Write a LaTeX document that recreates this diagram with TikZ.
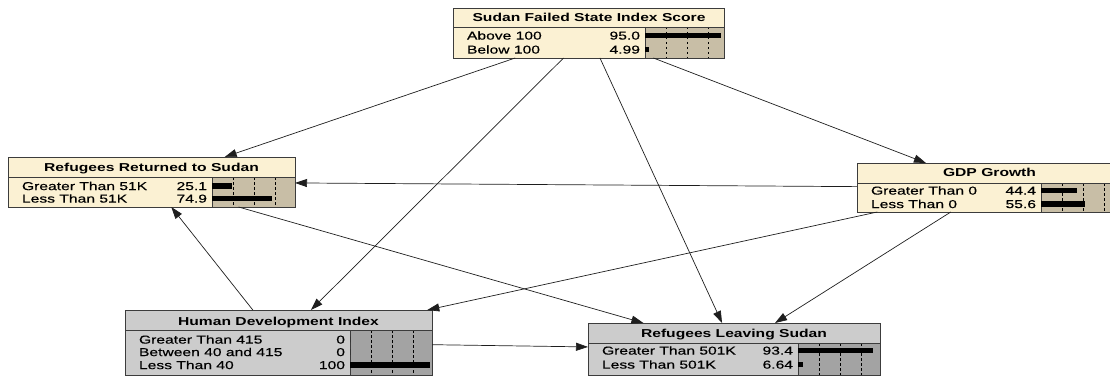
\documentclass[tikz,border=0pt]{standalone}
\usepackage{fontspec}
\newfontfamily\bnfont[FakeStretch=1.36,FakeBold=0.35]{Liberation Sans}
\newfontfamily\bnbfont[FakeStretch=1.36]{Liberation Sans Bold}
\usetikzlibrary{arrows.meta}
\definecolor{creamfill}{RGB}{251,241,211}
\definecolor{creambar}{RGB}{200,190,166}
\definecolor{grayfill}{RGB}{204,204,204}
\definecolor{graybar}{RGB}{163,163,163}
\definecolor{edgecol}{RGB}{30,30,30}
\definecolor{framecol}{RGB}{60,60,60}
% #1 name, #2 left, #3 top, #4 right, #5 bottom, #6 separator y, #7 bar-area left, #8 colour prefix, #9 title
\newcommand\bnbox[9]{%
  \node[bnframe, fill=#8fill, minimum width={#4-#2}, minimum height={#5-#3}] (#1) at ({(#2+#4)/2},{(#3+#5)/2}) {};
  \fill[#8bar] (#7,#6) rectangle (#4,#5);
  \draw[framecol, line width=0.7pt] (#7,#6) -- (#7,#5);
  \foreach \k in {21,42,63} \draw[bndash] ({#7+\k},#6) -- ({#7+\k},#5);
  \draw[framecol, line width=0.7pt] (#2,#6) -- (#4,#6);
  \draw[framecol, line width=0.8pt] (#2,#3) rectangle (#4,#5);
}
% #1 name, #2 box left, #3 bar-area left, #4 row centre y, #5 label, #6 value, #7 percent
\newcommand\bnrow[7]{%
  \node[bntext, anchor=base west] (#1-l) at ({#2+14},{#4+4.1}) {#5};
  \node[bntext, anchor=base east] (#1-v) at ({#3-5},{#4+4.1}) {#6};
  \fill[black] (#3,{#4-2.9}) rectangle ({#3+0.8*#7},{#4+2.9});
}
\tikzset{
  bnframe/.style={draw=framecol, line width=0.8pt, inner sep=0pt, outer sep=0pt, rectangle},
  bntext/.style={inner sep=0pt, outer sep=0pt, font=\bnfont\fontsize{11.5}{13}\selectfont, text=black},
  bntitle/.style={inner sep=0pt, outer sep=0pt, font=\bnbfont\fontsize{11.5}{13}\selectfont, text=black, anchor=base},
  bndash/.style={black, line width=0.8pt, dash pattern=on 2.5pt off 2.5pt},
  bnedge/.style={edgecol, line width=0.7pt, -{Triangle[length=12pt,width=8pt]}},
}
\begin{document}
\begin{tikzpicture}[x=1pt,y=-1pt]
\useasboundingbox (0,0) rectangle (1110,377);
\clip (0,0) rectangle (1110,377);

% Sudan Failed State Index Score
\bnbox{sudan}{453}{8}{724}{58}{27}{645}{cream}{}
\node[bntitle] (sudan-t) at (589,21.6) {Sudan Failed State Index Score};
\bnrow{sudan-a}{453}{645}{35.5}{Above 100}{95.0}{95.0}
\bnrow{sudan-b}{453}{645}{49.5}{Below 100}{4.99}{4.99}

% Refugees Returned to Sudan
\bnbox{rr}{8}{157}{295}{207}{177}{212}{cream}{}
\node[bntitle] (rr-t) at (151.5,171.6) {Refugees Returned to Sudan};
\bnrow{rr-a}{8}{212}{186}{Greater Than 51K}{25.1}{25.1}
\bnrow{rr-b}{8}{212}{198.5}{Less Than 51K}{74.9}{74.9}

% GDP Growth
\bnbox{gdp}{857}{163}{1122}{212}{183}{1041}{cream}{}
\node[bntitle] (gdp-t) at (989.5,176.1) {GDP Growth};
\bnrow{gdp-a}{857}{1041}{190.5}{Greater Than 0}{44.4}{44.4}
\bnrow{gdp-b}{857}{1041}{204}{Less Than 0}{55.6}{55.6}

% Human Development Index
\bnbox{hdi}{125}{310}{432}{375}{330}{350}{gray}{}
\node[bntitle] (hdi-t) at (278.5,325.1) {Human Development Index};
\bnrow{hdi-a}{125}{350}{339.5}{Greater Than 415}{0}{0}
\bnrow{hdi-b}{125}{350}{352}{Between 40 and 415}{0}{0}
\bnrow{hdi-c}{125}{350}{365}{Less Than 40}{100}{100}

% Refugees Leaving Sudan
\bnbox{leave}{588}{323}{880}{375}{343}{798}{gray}{}
\node[bntitle] (leave-t) at (734,337.1) {Refugees Leaving Sudan};
\bnrow{leave-a}{588}{798}{350.5}{Greater Than 501K}{93.4}{93.4}
\bnrow{leave-b}{588}{798}{364.5}{Less Than 501K}{6.64}{6.64}

% connectors
\draw[bnedge] (sudan) -- (rr);
\draw[bnedge] (sudan) -- (gdp);
\draw[bnedge] (sudan) -- (hdi);
\draw[bnedge] (sudan) -- (leave);
\draw[bnedge] (gdp) -- (rr);
\draw[bnedge] (gdp) -- (hdi);
\draw[bnedge] (gdp) -- (leave);
\draw[bnedge] (hdi) -- (rr);
\draw[bnedge] (hdi) -- (leave);
\draw[bnedge] (rr) -- (leave);
\end{tikzpicture}
\end{document}
